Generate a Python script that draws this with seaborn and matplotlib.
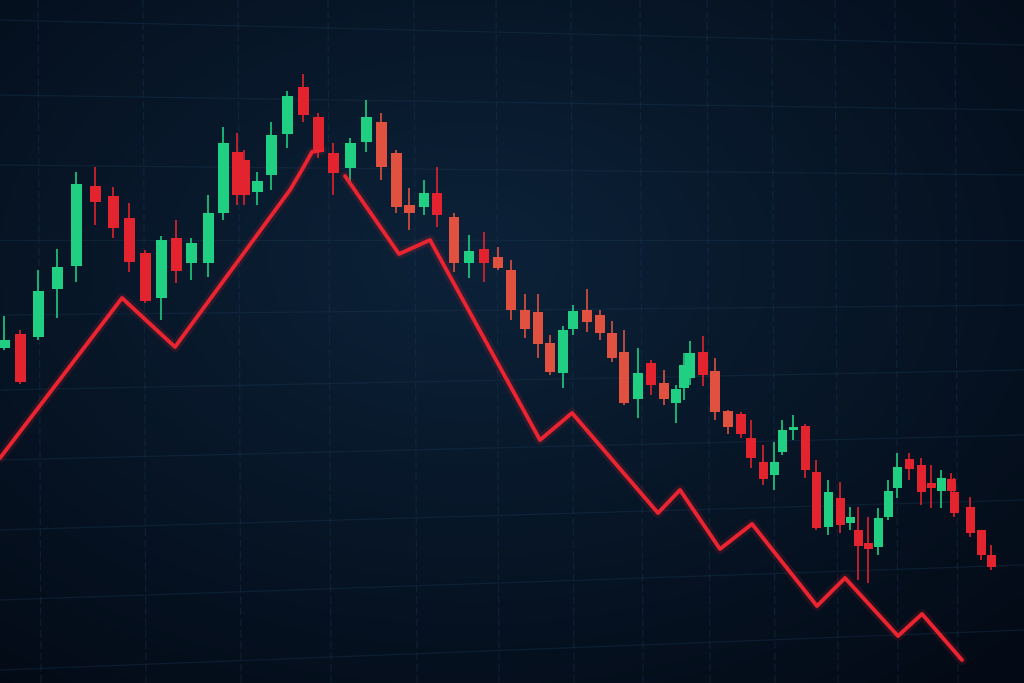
import numpy as np
import pandas as pd
import matplotlib
matplotlib.use("Agg")
import matplotlib.pyplot as plt
import seaborn as sns

# Candle data (x position, open, close, high, low) in chart units (y grows downward)
cx = [4, 20, 38, 57, 76, 95, 113, 129, 145, 161, 176, 191, 208, 223, 237, 244, 257, 271, 287, 303,
      318, 333, 350, 366, 381, 396, 409, 424, 437, 454, 469, 484, 498, 511, 525, 538, 550, 563, 573,
      587, 600, 612, 624, 638, 651, 664, 676, 684, 690, 703, 715, 728, 741, 751, 763, 774, 782, 793,
      805, 816, 828, 840, 850, 858, 868, 878, 888, 897, 909, 921, 931, 941, 951, 954, 970, 981, 991]
c_open = [348, 334, 337, 289, 266, 186, 196, 218, 253, 298, 238, 263, 263, 213, 152, 160, 192, 175, 134, 87,
          117, 153, 168, 142, 122, 153, 205, 207, 193, 217, 263, 249, 257, 270, 310, 312, 343, 373, 329,
          310, 315, 333, 352, 399, 363, 383, 403, 388, 378, 352, 371, 411, 414, 438, 462, 475, 452, 430,
          426, 472, 527, 498, 523, 530, 543, 547, 517, 488, 459, 465, 483, 491, 479, 492, 507, 530, 555]
c_close = [340, 382, 291, 267, 184, 202, 228, 262, 301, 240, 271, 243, 213, 143, 195, 195, 181, 135, 96, 115,
           152, 173, 143, 117, 167, 207, 213, 193, 215, 263, 251, 263, 268, 310, 329, 344, 372, 330, 311,
           322, 333, 358, 403, 373, 385, 399, 389, 365, 353, 375, 412, 427, 434, 458, 479, 462, 430, 427,
           470, 528, 492, 525, 517, 546, 549, 518, 491, 467, 469, 492, 488, 478, 491, 513, 533, 555, 567]
c_high = [316, 330, 270, 249, 172, 167, 187, 203, 250, 236, 220, 238, 195, 127, 133, 150, 172, 122, 91, 74,
          113, 143, 138, 100, 113, 150, 188, 180, 167, 213, 235, 232, 247, 260, 294, 294, 335, 326, 305,
          289, 310, 321, 330, 348, 360, 370, 385, 353, 341, 336, 358, 410, 412, 420, 445, 442, 420, 415,
          424, 460, 480, 482, 507, 507, 517, 508, 480, 453, 453, 458, 465, 470, 473, 478, 497, 530, 545]
c_low = [350, 384, 340, 318, 282, 225, 238, 272, 303, 320, 283, 280, 277, 220, 205, 205, 205, 190, 148, 122,
         158, 195, 185, 152, 180, 213, 230, 215, 227, 272, 278, 282, 270, 320, 338, 358, 375, 388, 335,
         332, 340, 362, 405, 418, 395, 405, 423, 400, 385, 386, 420, 434, 438, 468, 485, 490, 455, 440,
         478, 530, 535, 533, 530, 580, 583, 555, 520, 498, 480, 505, 508, 508, 508, 517, 537, 560, 570]

# Trend line points (two segments)
line_x = [0, 122, 175, 290, 303, 312, 322, 345, 399, 430, 540, 572, 658, 680, 720, 752, 817, 845, 898, 922, 962]
line_y = [458, 298, 347, 190, 168, 152, 150, 176, 254, 240, 440, 413, 513, 490, 549, 524, 606, 578, 636, 614, 660]
line_seg = [0, 0, 0, 0, 0, 0, 0, 1, 1, 1, 1, 1, 1, 1, 1, 1, 1, 1, 1, 1, 1]

W, H = 1024, 683

sns.set_style("dark")
fig = plt.figure(figsize=(10.24, 6.83), dpi=100)
ax = fig.add_axes([0, 0, 1, 1])

# Background: dark navy with lighter centre, darker corners
yy, xx = np.mgrid[0:H, 0:W]
d = np.sqrt(((xx - 470) / 620.0) ** 2 + ((yy - 260) / 420.0) ** 2)
t = np.clip(d, 0, 1.3) / 1.3
c_center = np.array([0x0c, 0x22, 0x39]) / 255
c_edge = np.array([0x03, 0x0a, 0x15]) / 255
img = c_center[None, None, :] * (1 - t[..., None]) + c_edge[None, None, :] * t[..., None]
ax.imshow(img, extent=(0, W, H, 0), aspect="auto", zorder=0)

# Faint perspective grid
grid_col = "#1d3d5a"
vx = [38, 143, 238, 328, 414, 496, 571, 640, 707, 772, 835, 895, 955]
for v in vx:
    ax.plot([v, v + 3], [0, H], color=grid_col, lw=0.9, alpha=0.35, ls=(0, (6, 3)), zorder=1)
hy_left = [20, 95, 165, 240, 315, 390, 460, 530, 600, 670]
hy_right = [45, 110, 175, 240, 305, 370, 435, 500, 565, 630]
for a, b in zip(hy_left, hy_right):
    ax.plot([0, W], [a, b], color=grid_col, lw=0.9, alpha=0.32, zorder=1)

# Candles
df = pd.DataFrame({"x": cx, "open": c_open, "close": c_close, "high": c_high, "low": c_low})
df["up"] = df["close"] < df["open"]
green = "#20cf82"

def red_for(x):
    return "#e0523f" if 380 <= x <= 730 and x not in (437, 484, 651, 703) else "#e3232d"

for _, r in df.iterrows():
    col = green if r["up"] else red_for(r["x"])
    w = 11 if r["x"] < 420 else (10 if r["x"] < 760 else 9)
    ax.vlines(r["x"], r["high"], r["low"], color=col, lw=1.3, alpha=0.9, zorder=3)
    top = min(r["open"], r["close"])
    h = max(abs(r["open"] - r["close"]), 3)
    ax.bar(r["x"], h, bottom=top, width=w, color=col, edgecolor="none", zorder=4)

# Red trend line
ldf = pd.DataFrame({"x": line_x, "y": line_y, "seg": line_seg})
for s, g in ldf.groupby("seg"):
    ax.plot(g["x"], g["y"], color="#e8202c", lw=7, alpha=0.15, zorder=5, solid_capstyle="round")
sns.lineplot(data=ldf, x="x", y="y", units="seg", sort=False, ax=ax, color="#ea2430", lw=2.8,
             zorder=6, estimator=None)
ax.set_xlim(0, W)
ax.set_ylim(H, 0)
ax.axis("off")

fig.savefig("out.png", dpi=100)
